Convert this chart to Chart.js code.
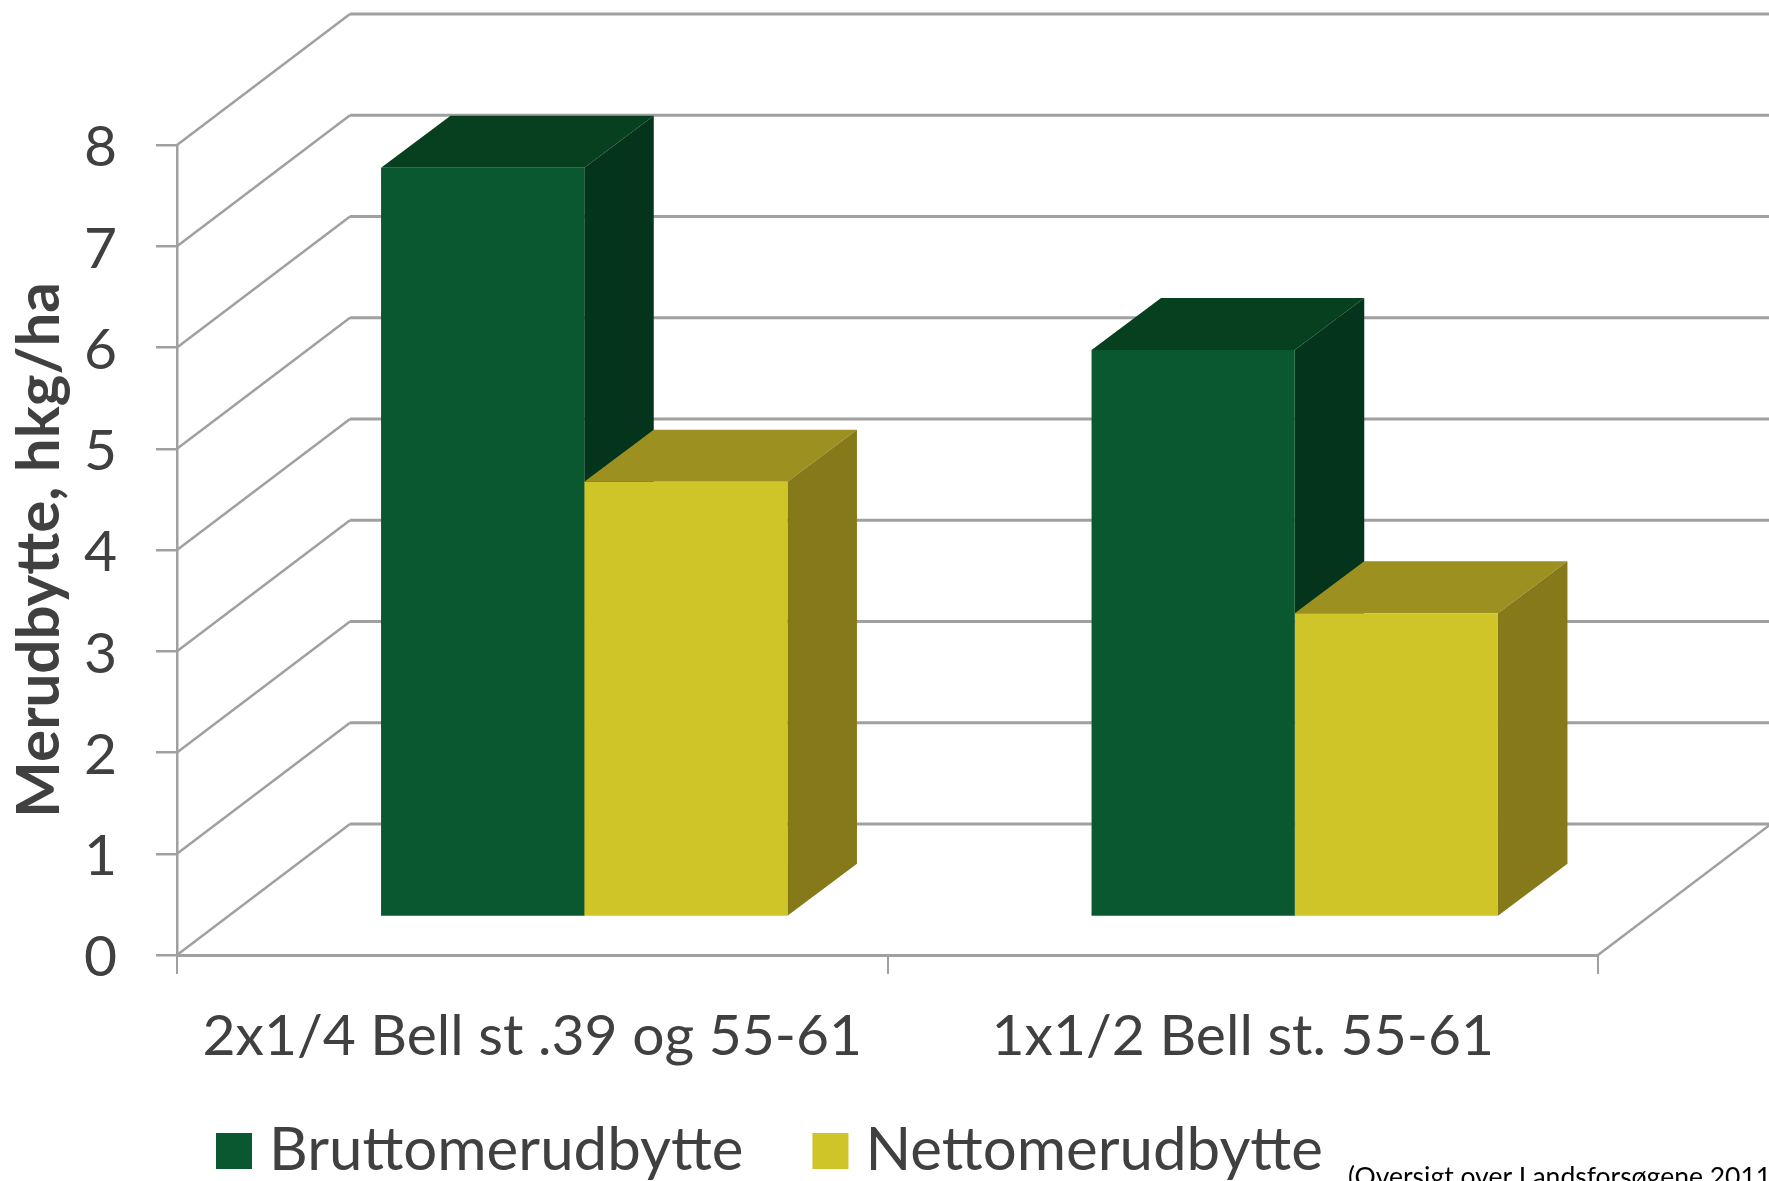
<!DOCTYPE html>
<html>
<head>
<meta charset="utf-8">
<title>Merudbytte</title>
<script src="https://cdn.jsdelivr.net/npm/chart.js@4"></script>
<style>
    html, body { margin: 0; padding: 0; background: #fff; overflow: hidden; }
    canvas { display: block; }
</style>
</head>
<body>
<canvas id="yieldChart" width="1769" height="1181"></canvas>
<script>
const categories = ['2x1/4 Bell st .39 og 55-61', '1x1/2 Bell st. 55-61'];
const bruttoValues = [7.4, 5.6];
const nettoValues = [4.3, 3.0];
const yTicks = [0, 1, 2, 3, 4, 5, 6, 7, 8];

const textColor = '#404040';
const gridColor = '#a0a0a0';
const fontName = 'Lato';

// flat 3D look: [front, top, side]
const greenShades = ['#0a582f', '#07401f', '#04351c'];
const yellowShades = ['#cfc428', '#9c9120', '#85791a'];

const wallDx = 173, wallDy = 131;    // floor depth
const barDx = 52, barDy = 38;        // bars stand a bit behind the axis plane
const sideDx = 69.5, sideDy = 52;    // depth of one bar

const wall3d = {
    id: 'wall3d',
    beforeDatasetsDraw(chart) {
        const { ctx, scales: { x, y } } = chart;
        ctx.save();
        ctx.strokeStyle = gridColor;
        ctx.lineWidth = 2.5;
        for (let v of yTicks) {
            const py = y.getPixelForValue(v);
            ctx.beginPath();
            ctx.moveTo(x.left, py);
            ctx.lineTo(x.left + wallDx, py - wallDy);
            ctx.stroke();
            ctx.lineWidth = 3;
            ctx.beginPath();
            ctx.moveTo(x.left + wallDx, py - wallDy);
            ctx.lineTo(chart.width + 5, py - wallDy);
            ctx.stroke();
            ctx.lineWidth = 2.5;
        }
        // right edge of the floor
        const y0 = y.getPixelForValue(0);
        ctx.beginPath();
        ctx.moveTo(x.right, y0);
        ctx.lineTo(x.right + wallDx, y0 - wallDy);
        ctx.stroke();
        ctx.restore();
    }
};

// tops and sides go in first, green before yellow, the library then paints the fronts
const bars3d = {
    id: 'bars3d',
    beforeDatasetsDraw(chart) {
        const ctx = chart.ctx;
        ctx.save();
        ctx.translate(barDx, -barDy);
        chart.data.datasets.forEach((ds, i) => {
            for (let bar of chart.getDatasetMeta(i).data) {
                const left = bar.x - bar.width / 2;
                const right = bar.x + bar.width / 2;
                ctx.fillStyle = ds.shades[1];
                ctx.beginPath();
                ctx.moveTo(left, bar.y);
                ctx.lineTo(left + sideDx, bar.y - sideDy);
                ctx.lineTo(right + sideDx, bar.y - sideDy);
                ctx.lineTo(right, bar.y);
                ctx.closePath();
                ctx.fill();
                ctx.fillStyle = ds.shades[2];
                ctx.beginPath();
                ctx.moveTo(right, bar.y);
                ctx.lineTo(right + sideDx, bar.y - sideDy);
                ctx.lineTo(right + sideDx, bar.base - sideDy);
                ctx.lineTo(right, bar.base);
                ctx.closePath();
                ctx.fill();
            }
        });
        ctx.restore();
    },
    beforeDatasetDraw(chart) {
        chart.ctx.save();
        chart.ctx.translate(barDx, -barDy);
    },
    afterDatasetDraw(chart) {
        chart.ctx.restore();
    }
};

const legendPlace = {
    id: 'legendPlace',
    afterLayout(chart) {
        const legend = chart.legend;
        const pad = legend.options.labels.padding;
        const font = legend.options.labels.font.size;
        legend.left = 216 + 13 - pad;
        legend.top = 1151 - pad - font / 2;
        // legend box is tall because of its padding, x labels would get clipped
        chart.scales.x.bottom = chart.scales.x.top + 170;
    },
    beforeDraw(chart) {
        // Lato digits sit a little high on the middle baseline
        chart.scales.y.getLabelItems().forEach(item => { item.textOffset = 3; });
    }
};

const sourceNote = {
    id: 'sourceNote',
    afterDraw(chart) {
        const ctx = chart.ctx;
        ctx.save();
        ctx.fillStyle = '#000';
        ctx.font = '26.5px ' + fontName;
        ctx.textAlign = 'left';
        ctx.textBaseline = 'alphabetic';
        ctx.fillText('(Oversigt over Landsforsøgene 2011', 1348, 1186);
        ctx.restore();
    }
};

const ctx = document.getElementById('yieldChart').getContext('2d');
window.yieldChart = new Chart(ctx, {
    type: 'bar',
    data: {
        labels: categories,
        datasets: [
            {
                label: 'Bruttomerudbytte',
                data: bruttoValues,
                backgroundColor: greenShades[0],
                shades: greenShades,
                clip: false
            },
            {
                label: 'Nettomerudbytte',
                data: nettoValues,
                backgroundColor: yellowShades[0],
                shades: yellowShades,
                clip: false
            }
        ]
    },
    options: {
        responsive: false,
        animation: false,
        layout: { padding: { top: 145, right: 171, bottom: 0, left: 0 } },
        datasets: { bar: { categoryPercentage: 0.572, barPercentage: 1 } },
        scales: {
            x: {
                afterFit(scale) {
                    scale.height = 226 - scale.chart.legend.height;
                },
                border: { color: gridColor, width: 3 },
                grid: { drawOnChartArea: false, color: gridColor, lineWidth: 2, tickLength: 19, offset: true },
                ticks: {
                    color: textColor,
                    font: { family: fontName, size: 57 },
                    padding: 28,
                    maxRotation: 0,
                    autoSkip: false
                }
            },
            y: {
                min: 0,
                max: 8,
                afterFit(scale) {
                    scale.width = 177;
                },
                afterBuildTicks(scale) {
                    scale.ticks = yTicks.map(v => ({ value: v }));
                },
                border: { color: gridColor, width: 2.5 },
                grid: { drawOnChartArea: false, color: gridColor, lineWidth: 2.5, tickLength: 21 },
                ticks: {
                    color: textColor,
                    font: { family: fontName, size: 57 },
                    padding: 39
                },
                title: {
                    display: true,
                    text: 'Merudbytte, hkg/ha',
                    color: textColor,
                    font: { family: fontName, size: 60, weight: 'bold' },
                    padding: { top: 4, bottom: 0 }
                }
            }
        },
        plugins: {
            title: { display: false },
            tooltip: { enabled: false },
            legend: {
                position: 'bottom',
                align: 'start',
                labels: {
                    color: textColor,
                    font: { family: fontName, size: 60 },
                    boxWidth: 10,
                    boxHeight: 10,
                    padding: 82,
                    generateLabels(chart) {
                        return chart.data.datasets.map((ds, i) => ({
                            text: ds.label,
                            fillStyle: ds.backgroundColor,
                            strokeStyle: ds.backgroundColor,
                            lineWidth: 26,
                            fontColor: textColor,
                            datasetIndex: i
                        }));
                    }
                }
            }
        }
    },
    plugins: [wall3d, bars3d, legendPlace, sourceNote]
});
</script>
</body>
</html>
